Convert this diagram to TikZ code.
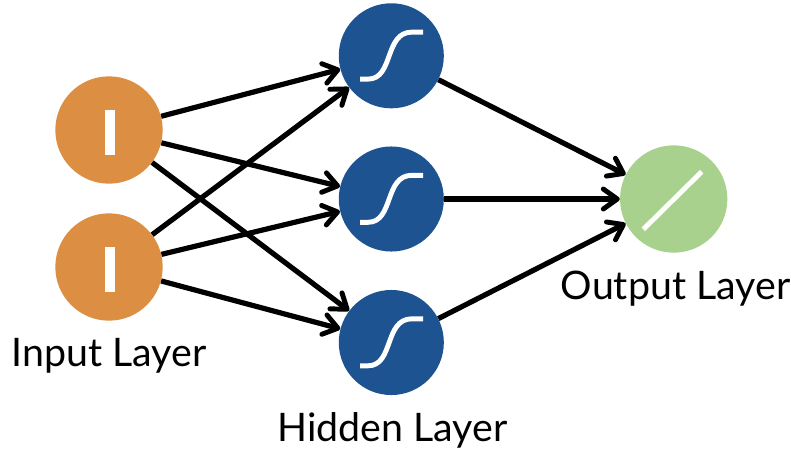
\documentclass[tikz,border=0pt]{standalone}
\usepackage{fontspec}
\setmainfont{Lato}
\usetikzlibrary{arrows.meta}
\definecolor{inp}{HTML}{DC8F43}
\definecolor{hid}{HTML}{1C5390}
\definecolor{outc}{HTML}{A9D18E}
\tikzset{
 neuron/.style={circle,inner sep=0pt},
 inputn/.style={neuron,minimum size=80.5pt,fill=inp},
 hiddenn/.style={neuron,minimum size=78.8pt,fill=hid},
 outputn/.style={neuron,minimum size=80.5pt,fill=outc},
 conn/.style={line width=3.9pt,-{Straight Barb[length=10.5pt,width=15pt,line width=3.7pt,round]}},
 lab/.style={font=\fontsize{29.5pt}{32pt}\selectfont,inner sep=0pt,text=black,anchor=base}}
\begin{document}
\begin{tikzpicture}[x=0.75pt,y=-0.75pt]
\useasboundingbox (0,0) rectangle (791,450);
\node[inputn] (i1) at (109,130) {};
\node[inputn] (i2) at (109,267) {};
\node[hiddenn] (h1) at (391.3,55.8) {};
\node[hiddenn] (h2) at (391.3,199) {};
\node[hiddenn] (h3) at (391.3,342.5) {};
\node[outputn] (o) at (673.7,199) {};
\fill[white] (105,110) rectangle (115,155);
\fill[white] (105,247) rectangle (115,292);
\foreach \c in {55.8,199,342.5}{
 \draw[white,line width=3.7pt] (360,\c+23.3) -- (368,\c+23.3) .. controls (394,\c+23.3) and (384,\c-23.7) .. (412,\c-23.7) -- (423,\c-23.7);
}
\draw[white,line width=3.7pt] (643.3,229.3) -- (701.7,171.7);
\foreach \a/\b in {i1/h1,i1/h2,i1/h3,i2/h1,i2/h2,i2/h3,h1/o,h2/o,h3/o}
 \draw[conn] (\a) -- (\b);
\node[lab] (l1) at (109,366) {Input Layer};
\node[lab] (l2) at (392.5,441) {Hidden Layer};
\node[lab] (l3) at (675.5,299) {Output Layer};
\end{tikzpicture}
\end{document}
